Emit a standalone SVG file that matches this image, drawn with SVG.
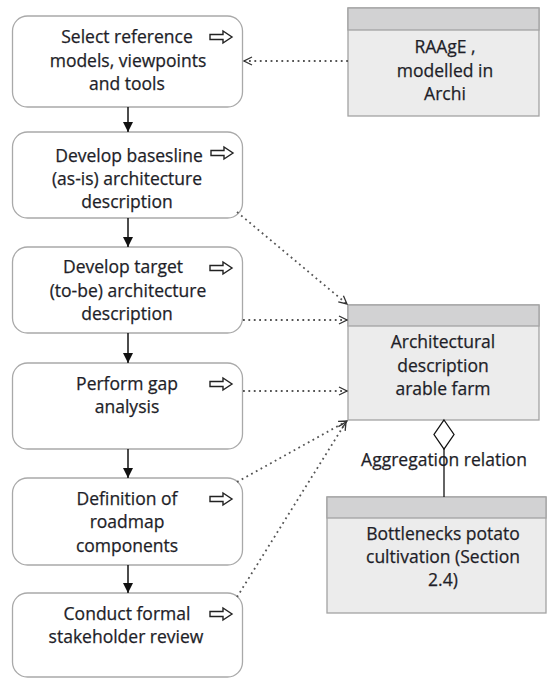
<svg xmlns="http://www.w3.org/2000/svg" width="549" height="678" viewBox="0 0 549 678">
  <style>
    .step { fill: #ffffff; stroke: #a9a9a9; stroke-width: 1.3; }
    .obj { fill: #ececec; stroke: #a3a3a3; stroke-width: 1.3; }
    .hdr { fill: #d2d2d3; stroke: #a3a3a3; stroke-width: 1.3; }
    .lbl { font-family: "Open Sans", "Noto Sans", sans-serif; font-size: 17.5px; fill: #1e1e28; text-anchor: middle; stroke: #1e1e28; stroke-width: 0.25; }
    .icon { fill: #ffffff; stroke: #222; stroke-width: 1.4; stroke-linejoin: miter; }
    .flow { stroke: #111; stroke-width: 1.5; fill: none; }
    .acc { stroke: #555; stroke-width: 1.8; stroke-dasharray: 1.8 3.6; fill: none; }
    .agg { stroke: #111; stroke-width: 1.3; fill: none; }
  </style>
  <defs>
    <marker id="tri" viewBox="0 0 10 10" refX="10" refY="5" markerWidth="10" markerHeight="10" markerUnits="userSpaceOnUse" orient="auto">
      <path d="M0,0 L10,5 L0,10 Z" fill="#111"/>
    </marker>
    <marker id="open" viewBox="0 0 10 10" refX="9" refY="5" markerWidth="10" markerHeight="10" markerUnits="userSpaceOnUse" orient="auto">
      <path d="M1,1 L9,5 L1,9" fill="none" stroke="#333" stroke-width="1.3"/>
    </marker>
    <path id="proc" d="M0,-2.5 L13,-2.5 L13,-6 L22,0 L13,6 L13,2.5 L0,2.5 Z"/>
  </defs>

  <!-- process steps -->
  <g id="step-select">
    <rect class="step" x="12.5" y="16" width="230" height="91" rx="15"/>
    <use href="#proc" class="icon" x="210" y="37"/>
    <text class="lbl" x="127" y="43">Select reference</text>
    <text class="lbl" x="128" y="67">models, viewpoints</text>
    <text class="lbl" x="127" y="90">and tools</text>
  </g>
  <g id="step-baseline">
    <rect class="step" x="12.5" y="132" width="230" height="86" rx="15"/>
    <use href="#proc" class="icon" x="211" y="153"/>
    <text class="lbl" x="129" y="162">Develop basesline</text>
    <text class="lbl" x="127" y="185">(as-is) architecture</text>
    <text class="lbl" x="127" y="208">description</text>
  </g>
  <g id="step-target">
    <rect class="step" x="12.5" y="247" width="230" height="86" rx="15"/>
    <use href="#proc" class="icon" x="210" y="268"/>
    <text class="lbl" x="123" y="273">Develop target</text>
    <text class="lbl" x="128" y="297">(to-be) architecture</text>
    <text class="lbl" x="127" y="320">description</text>
  </g>
  <g id="step-gap">
    <rect class="step" x="12.5" y="363" width="230" height="86" rx="15"/>
    <use href="#proc" class="icon" x="210" y="384"/>
    <text class="lbl" x="127" y="390">Perform gap</text>
    <text class="lbl" x="127" y="413">analysis</text>
  </g>
  <g id="step-roadmap">
    <rect class="step" x="12.5" y="478" width="230" height="87" rx="15"/>
    <use href="#proc" class="icon" x="210" y="499"/>
    <text class="lbl" x="127" y="505">Definition of</text>
    <text class="lbl" x="127" y="528">roadmap</text>
    <text class="lbl" x="127" y="552">components</text>
  </g>
  <g id="step-review">
    <rect class="step" x="12.5" y="593" width="230" height="84" rx="15"/>
    <use href="#proc" class="icon" x="210" y="614"/>
    <text class="lbl" x="127" y="620">Conduct formal</text>
    <text class="lbl" x="126" y="643">stakeholder review</text>
  </g>

  <!-- information objects -->
  <g id="obj-raage">
    <rect class="obj" x="348" y="8" width="191" height="108"/>
    <rect class="hdr" x="348" y="8" width="191" height="22"/>
    <text class="lbl" x="445" y="53">RAAgE ,</text>
    <text class="lbl" x="445" y="77">modelled in</text>
    <text class="lbl" x="445" y="100">Archi</text>
  </g>
  <g id="obj-architecture">
    <rect class="obj" x="348" y="305" width="191" height="115"/>
    <rect class="hdr" x="348" y="305" width="191" height="21"/>
    <text class="lbl" x="443" y="348">Architectural</text>
    <text class="lbl" x="443" y="372">description</text>
    <text class="lbl" x="443" y="395">arable farm</text>
  </g>
  <g id="obj-bottlenecks">
    <rect class="obj" x="327" y="497" width="219" height="116"/>
    <rect class="hdr" x="327" y="497" width="219" height="21"/>
    <text class="lbl" x="443" y="540">Bottlenecks potato</text>
    <text class="lbl" x="443" y="563">cultivation (Section</text>
    <text class="lbl" x="443" y="586">2.4)</text>
  </g>

  <!-- connectors -->
  <g id="connectors">
    <line class="flow" x1="128" y1="107" x2="128" y2="132" marker-end="url(#tri)"/>
    <line class="flow" x1="128" y1="218" x2="128" y2="247" marker-end="url(#tri)"/>
    <line class="flow" x1="128" y1="333" x2="128" y2="363" marker-end="url(#tri)"/>
    <line class="flow" x1="128" y1="449" x2="128" y2="478" marker-end="url(#tri)"/>
    <line class="flow" x1="128" y1="565" x2="128" y2="593" marker-end="url(#tri)"/>

    <line class="acc" x1="348" y1="61" x2="244" y2="61" marker-end="url(#open)"/>
    <line class="acc" x1="237" y1="212" x2="347" y2="304" marker-end="url(#open)"/>
    <line class="acc" x1="243" y1="320" x2="347" y2="320" marker-end="url(#open)"/>
    <line class="acc" x1="243" y1="391" x2="347" y2="391" marker-end="url(#open)"/>
    <line class="acc" x1="237" y1="482" x2="347" y2="421" marker-end="url(#open)"/>
    <line class="acc" x1="237" y1="597" x2="346" y2="422" marker-end="url(#open)"/>

    <path class="agg" d="M444,420 L454,434.5 L444,449 L434,434.5 Z" fill="#ffffff"/>
    <line class="agg" x1="444" y1="449" x2="444" y2="497"/>
    <text class="lbl" x="444" y="466">Aggregation relation</text>
  </g>
</svg>
